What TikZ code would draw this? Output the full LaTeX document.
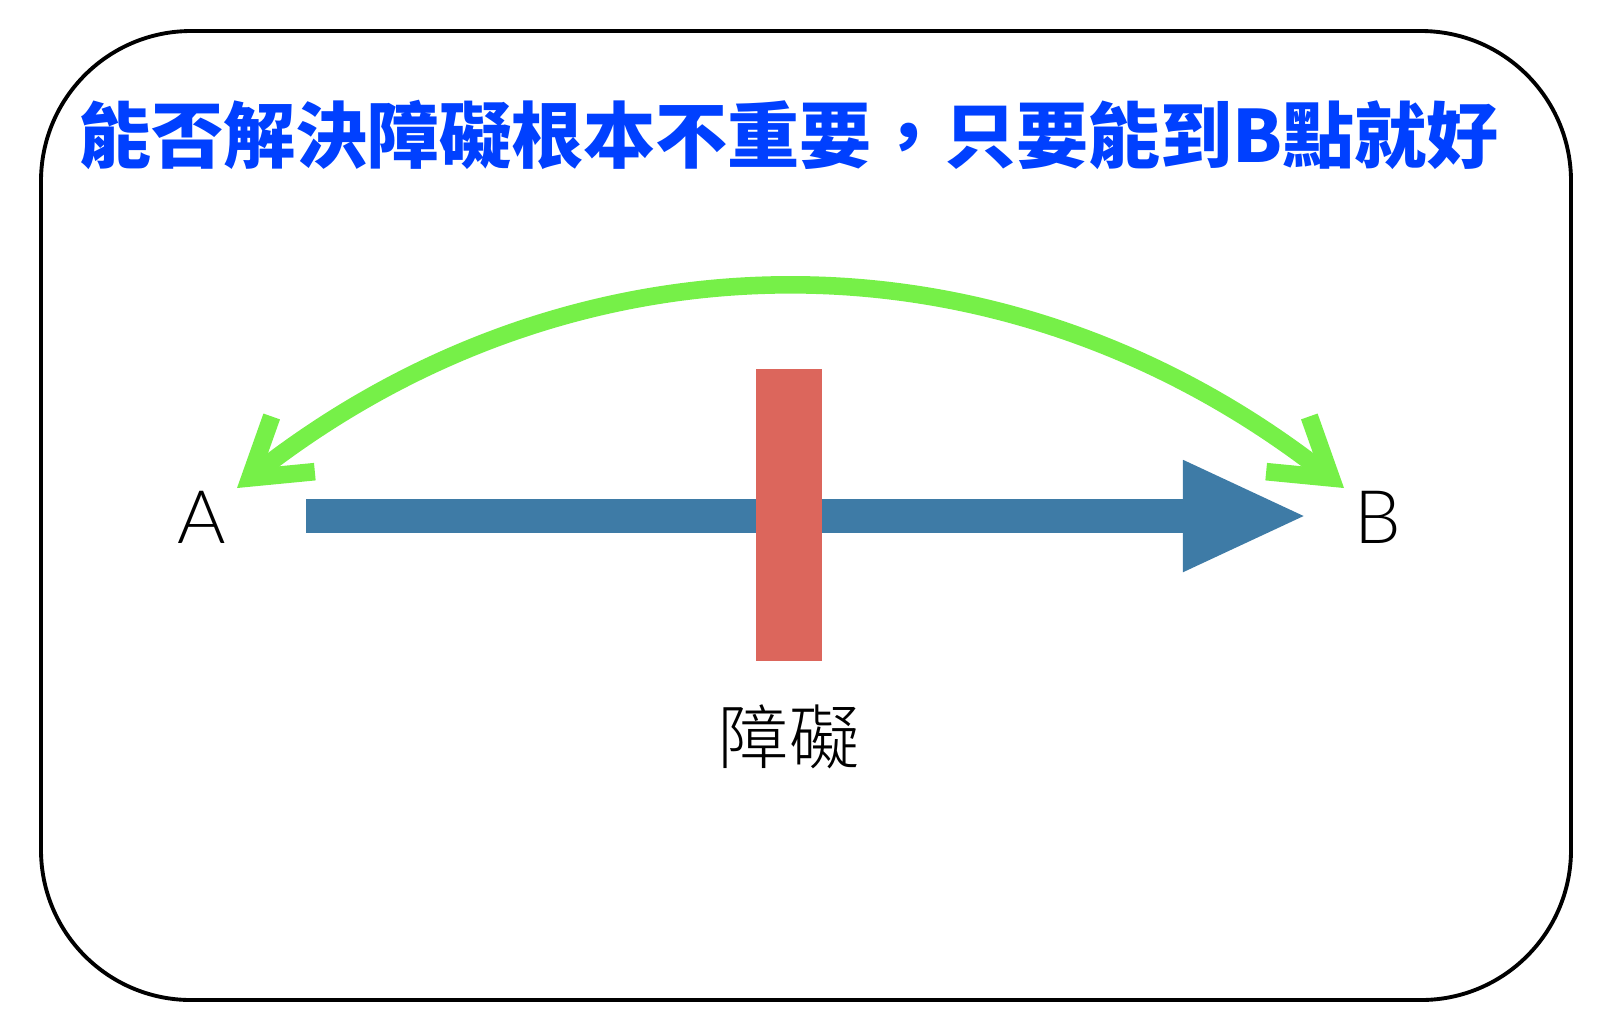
\documentclass[tikz,border=0pt]{standalone}
\usepackage{fontspec}
\setmainfont{Liberation Sans}
\newfontfamily\cjk{Noto Sans CJK TC}
\IfFontExistsTF{Noto Sans CJK TC Light}{\newfontfamily\cjklight{Noto Sans CJK TC Light}}{\newfontfamily\cjklight{Noto Sans CJK TC}}
\IfFontExistsTF{Lato Light}{\newfontfamily\latinlight{Lato Light}}{\newfontfamily\latinlight{Liberation Sans}}
\usetikzlibrary{arrows.meta}
\definecolor{titleblue}{RGB}{0,64,255}
\definecolor{arcgreen}{RGB}{118,240,72}
\definecolor{pathblue}{RGB}{62,123,166}
\definecolor{barred}{RGB}{220,102,92}
\tikzset{
  frame/.style={draw=black, line width=1.1pt, rounded corners=1.5cm},
  titletext/.style={text=titleblue, font=\cjk\bfseries\fontsize{20.5pt}{24pt}\selectfont},
  pointlabel/.style={font=\latinlight\fontsize{21pt}{24pt}\selectfont, inner sep=0pt},
  obstacle/.style={fill=barred, minimum width=0.66cm, minimum height=2.92cm, inner sep=0pt},
  obstaclelabel/.style={font=\cjklight\fontsize{20pt}{24pt}\selectfont},
  mainarrow/.style={draw=pathblue, line width=9.4pt, -{Triangle[length=1.25cm,width=1.02cm]}},
  detour/.style={draw=arcgreen, line width=5pt,
    {Straight Barb[length=0.55cm,width=0.7cm]}-{Straight Barb[length=0.55cm,width=0.7cm]}}
}
\begin{document}
\begin{tikzpicture}[x=0.01cm,y=-0.01cm]
\useasboundingbox (0,0) rectangle (1600,1029);
\draw[frame] (41,31) rectangle (1571,1000);
\node[titletext] (title) at (789,135) {能否解決障礙根本不重要，只要能到B點就好};
\node[pointlabel] (A) at (202,517) {A};
\node[pointlabel] (B) at (1378,517) {B};
\coordinate (s) at (306,516);
\coordinate (e) at (1308,516);
\draw[mainarrow] (s) -- (e);
\node[obstacle] (bar) at (789,515) {};
\node[obstaclelabel] (obs) at (789,737) {障礙};
\coordinate (gA) at (237,488);
\coordinate (gB) at (1344,488);
\draw[detour] (gA) to[bend left=38] (gB);
\end{tikzpicture}
\end{document}
